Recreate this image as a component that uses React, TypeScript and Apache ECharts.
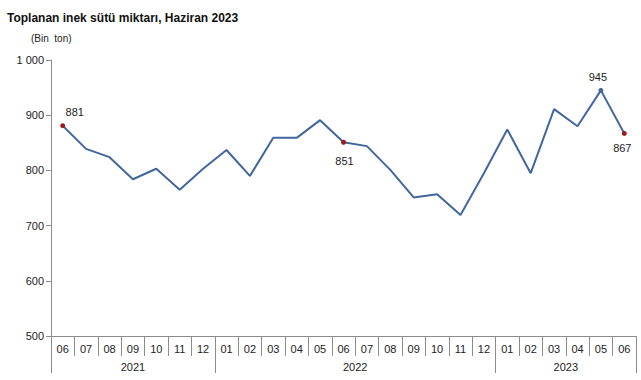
import React, { useEffect, useRef } from "react";
import * as echarts from "echarts";

const months = ["06","07","08","09","10","11","12","01","02","03","04","05","06","07","08","09","10","11","12","01","02","03","04","05","06"];
const years = ["2021", "2022", "2023"];
const monthsPerYear = [7, 12, 6];
const values = [881, 839, 824, 784, 803, 765, 803, 837, 790, 859, 859, 891, 851, 844, 801, 751, 757, 719, 795, 874, 795, 911, 880, 945, 867];
const yTicks = [500, 600, 700, 800, 900, 1000];
// highlighted points: index, marker colour, label placement
const highlightIdx = [0, 12, 23, 24];
const highlightColor = ["#9b1b1f", "#9b1b1f", "#41679e", "#9b1b1f"];
const highlightPos = ["tr", "b", "t", "b2"];

const LINE = "#41679e";
const FONT = "Liberation Sans, Arial, sans-serif";

export default function App() {
  const ref = useRef<HTMLDivElement>(null);
  useEffect(() => {
    if (!ref.current) return;
    const chart = echarts.init(ref.current, undefined, { renderer: "svg" });

    const data = values.map((v, i) => {
      const h = highlightIdx.indexOf(i);
      if (h < 0) return { value: v, symbol: "none" };
      const pos = highlightPos[h];
      let label: any = { show: true, color: "#222", fontSize: 11, fontFamily: FONT };
      if (pos === "tr") label = { ...label, position: "top", offset: [12, -1] };
      if (pos === "t") label = { ...label, position: "top", offset: [-3, 0] };
      if (pos === "b") label = { ...label, position: "bottom", offset: [1, 6] };
      if (pos === "b2") label = { ...label, position: "bottom", offset: [-2, 2] };
      return {
        value: v,
        symbol: "circle",
        symbolSize: 5,
        itemStyle: { color: highlightColor[h] },
        label,
      };
    });

    // year boundaries and centers
    const bounds: number[] = [0];
    monthsPerYear.forEach((n) => bounds.push(bounds[bounds.length - 1] + n));
    const centers = monthsPerYear.map((n, i) => bounds[i] + n / 2);

    chart.setOption({
      animation: false,
      title: [
        {
          text: "Toplanan inek sütü miktarı, Haziran 2023",
          left: 2,
          top: 7,
          textStyle: { fontSize: 12, fontWeight: "bold", color: "#111", fontFamily: FONT },
        },
        {
          text: "(Bin  ton)",
          left: 26,
          top: 28,
          textStyle: { fontSize: 10, fontWeight: "normal", color: "#222", fontFamily: FONT },
        },
      ],
      grid: { left: 51, right: 5, top: 60, bottom: 44, containLabel: false },
      xAxis: [
        {
          type: "category",
          data: months,
          boundaryGap: true,
          axisLine: { lineStyle: { color: "#8c8c8c", width: 1 } },
          axisTick: { show: true, interval: 0, length: 20, lineStyle: { color: "#8c8c8c" } },
          axisLabel: { interval: 0, margin: 7, fontSize: 11, color: "#222", fontFamily: FONT },
          splitLine: { show: false },
        },
        {
          type: "value",
          position: "bottom",
          min: 0,
          max: months.length,
          axisLine: { show: false },
          axisTick: {
            show: true,
            length: 37,
            customValues: bounds,
            lineStyle: { color: "#8c8c8c" },
          },
          axisLabel: {
            show: true,
            margin: 25,
            customValues: centers,
            fontSize: 11,
            color: "#222",
            fontFamily: FONT,
            formatter: (v: number) => {
              const i = centers.findIndex((c) => Math.abs(c - v) < 0.01);
              return i >= 0 ? years[i] : "";
            },
          },
          splitLine: { show: false },
        },
      ],
      yAxis: {
        type: "value",
        min: yTicks[0],
        max: yTicks[yTicks.length - 1],
        interval: 100,
        axisLine: { show: true, lineStyle: { color: "#8c8c8c" } },
        axisTick: { show: true, length: 5, lineStyle: { color: "#8c8c8c" } },
        axisLabel: {
          margin: 7,
          fontSize: 11,
          color: "#222",
          fontFamily: FONT,
          formatter: (v: number) => String(v).replace(/\B(?=(\d{3})+(?!\d))/g, " "),
        },
        splitLine: { show: false },
      },
      series: [
        {
          type: "line",
          xAxisIndex: 0,
          data,
          lineStyle: { color: LINE, width: 2 },
          itemStyle: { color: LINE },
          showSymbol: true,
        },
      ],
    });
    return () => chart.dispose();
  }, []);
  return <div ref={ref} style={{ width: 641, height: 380, position: "absolute", left: 0, top: 0 }} />;
}
